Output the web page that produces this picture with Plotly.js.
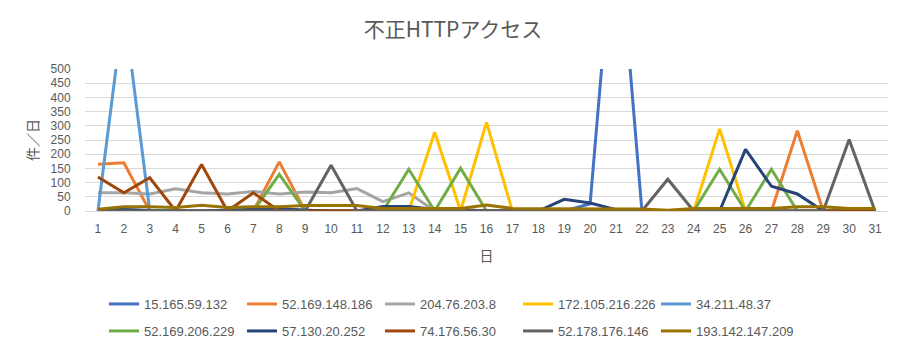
<!DOCTYPE html>
<html>
<head>
<meta charset="utf-8">
<script src="https://cdn.plot.ly/plotly-3.0.1.min.js"></script>
<style>
html,body{margin:0;padding:0;background:#fff;}
#chart{width:906px;height:353px;}
</style>
</head>
<body>
<div id="chart"></div>
<script>
// ---- data ----
const days = [1,2,3,4,5,6,7,8,9,10,11,12,13,14,15,16,17,18,19,20,21,22,23,24,25,26,27,28,29,30,31];
const tickLabels = days.map(String);
const seriesNames = ["15.165.59.132","52.169.148.186","204.76.203.8","172.105.216.226","34.211.48.37",
                     "52.169.206.229","57.130.20.252","74.176.56.30","52.178.176.146","193.142.147.209"];
const s15_165_59_132   = [2,5,2,0,0,2,3,5,3,0,0,0,0,0,0,0,0,0,0,25,1100,0,0,0,0,0,0,0,0,0,0];
const s52_169_148_186  = [165,170,0,0,0,0,0,173,0,0,0,0,0,0,0,0,0,0,0,0,0,0,0,0,0,0,0,283,0,0,0];
const s204_76_203_8    = [64,64,60,78,64,60,69,60,67,64,79,33,64,0,0,0,0,0,0,0,0,0,0,0,0,0,0,0,0,0,0];
const s172_105_216_226 = [0,0,0,0,0,0,0,0,0,0,0,0,0,277,0,312,0,0,0,0,0,0,0,0,289,0,0,0,0,0,0];
const s34_211_48_37    = [0,720,0,0,0,0,0,0,0,0,0,0,0,0,0,0,0,0,0,0,0,0,0,0,0,0,0,0,0,0,0];
const s52_169_206_229  = [0,0,0,0,0,0,0,129,0,0,0,0,147,0,151,0,0,0,0,0,0,0,0,0,147,0,147,0,0,0,0];
const s57_130_20_252   = [0,5,0,0,0,3,5,8,3,0,0,16,16,5,5,0,0,0,41,28,5,0,0,0,0,217,87,60,0,0,0];
const s74_176_56_30    = [120,64,117,0,164,0,64,0,0,0,0,0,0,0,0,0,0,0,0,0,0,0,0,0,0,0,0,0,0,0,0];
const s52_178_176_146  = [0,0,0,0,0,0,0,0,0,161,0,0,0,0,0,0,0,0,0,0,0,0,112,0,0,0,0,0,0,252,0];
const s193_142_147_209 = [6,15,15,12,20,12,15,15,19,20,19,9,9,9,9,21,9,8,8,7,7,7,3,9,9,9,9,15,15,9,9];
const seriesValues = [s15_165_59_132,s52_169_148_186,s204_76_203_8,s172_105_216_226,s34_211_48_37,
                      s52_169_206_229,s57_130_20_252,s74_176_56_30,s52_178_176_146,s193_142_147_209];
const seriesColors = ["#4472C4","#ED7D31","#A5A5A5","#FFC000","#5B9BD5",
                      "#70AD47","#264478","#9E480E","#636363","#997300"];
const yTicks = [0,50,100,150,200,250,300,350,400,450,500];

const txt = "#595959";
const numFont = "Liberation Sans, Arial, sans-serif";
const jpFont = "Noto Sans CJK JP, sans-serif";

const traces = seriesNames.map((n,i)=>({
  type:"scatter", mode:"lines", name:n, x:days, y:seriesValues[i],
  line:{color:seriesColors[i], width:3},
  legend: i<5 ? "legend" : "legend2",
  hoverinfo:"skip"
}));

const legendBase = {
  orientation:"h", xref:"container", yref:"container",
  xanchor:"left", yanchor:"middle",
  font:{family:numFont, size:13, color:txt},
  entrywidth:93, entrywidthmode:"pixels",
  bgcolor:"rgba(0,0,0,0)", borderwidth:0
};

const layout = {
  width:906, height:353,
  margin:{l:85, r:18, t:69, b:142},
  paper_bgcolor:"#fff", plot_bgcolor:"#fff",
  title:{text:"不正HTTPアクセス", font:{family:jpFont, size:21, color:txt},
         x:0.5, xref:"container", y:1-30/353, yref:"container", yanchor:"middle"},
  xaxis:{range:[0.5,31.5], tickvals:days, ticktext:tickLabels,
         tickfont:{family:numFont, size:12, color:txt},
         ticks:"outside", ticklen:7, tickcolor:"rgba(0,0,0,0)",
         showgrid:false, zeroline:false, showline:true, linecolor:"#D9D9D9", linewidth:1,
         title:{text:"日", font:{family:jpFont, size:14, color:txt}, standoff:15},
         fixedrange:true},
  yaxis:{range:[0,500], tickvals:yTicks,
         tickfont:{family:numFont, size:12, color:txt},
         ticks:"outside", ticklen:11, tickcolor:"rgba(0,0,0,0)",
         showgrid:true, gridcolor:"#D9D9D9", gridwidth:1, zeroline:false, showline:false,
         title:{text:"件／日", font:{family:jpFont, size:14, color:txt}, standoff:8},
         fixedrange:true},
  legend:Object.assign({}, legendBase, {x:104/906, y:1-304/353}),
  legend2:Object.assign({}, legendBase, {x:104/906, y:1-331/353}),
  showlegend:true
};

Plotly.newPlot("chart", traces, layout, {displayModeBar:false, staticPlot:true});
</script>
</body>
</html>
